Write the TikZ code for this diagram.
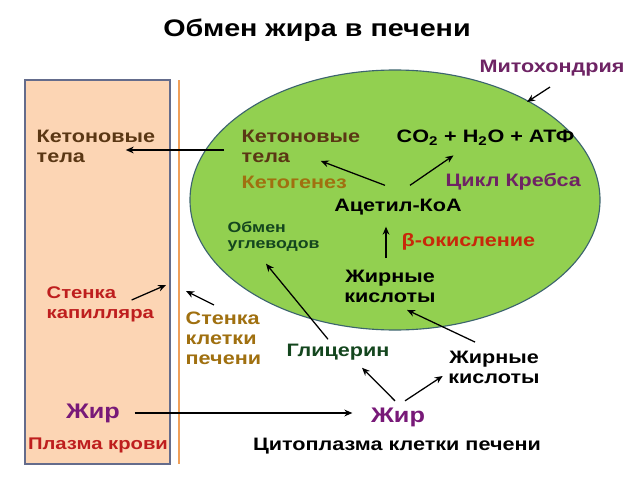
\documentclass[tikz,border=0pt]{standalone}
\usepackage{fontspec}
\setmainfont[FakeStretch=1.2]{Liberation Sans}
\usepackage{tikz}
\usetikzlibrary{arrows.meta,positioning}
\tikzset{>={Stealth[length=2mm,width=1.7mm]}}

\definecolor{plasmafill}{RGB}{252,213,180}
\definecolor{capborder}{RGB}{100,108,140}
\definecolor{wallorange}{RGB}{240,160,90}
\definecolor{mitofill}{RGB}{146,208,80}
\definecolor{mitoborder}{RGB}{60,100,110}
\definecolor{ketbrown}{RGB}{90,55,20}
\definecolor{ketgold}{RGB}{160,112,16}
\definecolor{krebspurple}{RGB}{110,35,100}
\definecolor{fatpurple}{RGB}{120,25,120}
\definecolor{betared}{RGB}{200,40,10}
\definecolor{wallred}{RGB}{190,30,30}
\definecolor{carbgreen}{RGB}{20,70,30}

\begin{document}
\begin{tikzpicture}[x=0.025cm,y=-0.025cm,
    font=\bfseries\fontsize{12.8}{14.2}\selectfont,
    lbl/.style={inner sep=1pt,align=left},
    big/.style={font=\bfseries\fontsize{15}{17}\selectfont},
    small/.style={font=\bfseries\fontsize{10.5}{11.5}\selectfont},
    redtxt/.style={text=wallred,font=\bfseries\fontsize{12}{14.2}\selectfont},
    arr/.style={->,line width=0.9pt}]
    \fill[white] (0,0) rectangle (640,480);
    \useasboundingbox (0,0) rectangle (640,480);

    % plasma and walls
    \draw[fill=plasmafill,draw=capborder,line width=1pt] (25,80) rectangle (170,464);
    \draw[wallorange,line width=2pt] (179,80) -- (179,464);
    \draw[fill=mitofill,draw=mitoborder,line width=0.8pt] (395,200) ellipse (205 and 130);

    \node[font=\bfseries\fontsize{17}{19}\selectfont] (title) at (317,30) {Обмен жира в печени};
    \node[text=krebspurple] (mito) at (552,68) {Митохондрия};

    \node[lbl,anchor=west,text=ketbrown] (ketblood) at (35,146) {Кетоновые\\тела};
    \node[lbl,anchor=west,text=ketbrown] (ketmito) at (240,146) {Кетоновые\\тела};
    \node[lbl,anchor=west,text=ketgold] (ketogen) at (240,182) {Кетогенез};
    \node[lbl,anchor=west] (prod) at (395,138) {CO\textsubscript{2} + H\textsubscript{2}O + АТФ};
    \node[lbl,anchor=west,text=krebspurple] (krebs) at (444,182) {Цикл Кребса};
    \node[lbl] (acoa) at (398,207) {Ацетил-КоА};
    \node[lbl,small,anchor=west,text=carbgreen] (carb) at (226,237) {Обмен\\углеводов};
    \node[lbl,anchor=west,text=betared] (beta) at (400,242) {β-окисление};
    \node[lbl,align=center] (fain) at (390,286) {Жирные\\кислоты};
    \node[lbl,text=carbgreen] (glyc) at (338,352) {Глицерин};
    \node[lbl,align=center] (faout) at (494,367) {Жирные\\кислоты};
    \node[lbl,big,text=fatpurple] (fatcell) at (398,417) {Жир};
    \node[lbl] (cyto) at (397,446) {Цитоплазма клетки печени};
    \node[lbl,big,text=fatpurple] (fatblood) at (93,413) {Жир};
    \node[lbl,redtxt] (plasma) at (98,445) {Плазма крови};
    \node[lbl,redtxt,anchor=west] (capwall) at (45,304) {Стенка\\капилляра};
    \node[lbl,anchor=west,text=ketgold] (cellwall) at (184,338) {Стенка\\клетки\\печени};

    \coordinate (capedge) at (166,285);
    \coordinate (walledge) at (186,291);
    \coordinate (mitoedge) at (527,102);

    \draw[arr] ([shift={(-16,4)}]ketmito.west) -- ([shift={(-31,4)}]ketblood.east);
    \draw[arr] ([shift={(-13,-12)}]acoa.north) -- ([shift={(-41,-3)}]ketmito.south east);
    \draw[arr] ([shift={(12,-12)}]acoa.north) -- ([shift={(-32,8)}]prod.south);
    \draw[arr] ([shift={(-4,-10)}]fain.north) -- ([shift={(-12,10)}]acoa.south);
    \draw[arr] ([shift={(-10,-3)}]glyc.north) -- ([shift={(40,10)}]carb.south west);
    \draw[arr] ([shift={(-19,-7)}]faout.north) -- ([shift={(17,6)}]fain.south);
    \draw[arr] ([shift={(-3,-5)}]fatcell.north) -- ([shift={(24,6)}]glyc.south);
    \draw[arr] ([shift={(7,-5)}]fatcell.north) -- ([shift={(-4,9)}]faout.west);
    \draw[arr] ([shift={(13,0)}]fatblood.east) -- ([shift={(-17,-4)}]fatcell.west);
    \draw[arr] ([shift={(-24,-4)}]capwall.east) -- (capedge);
    \draw[arr] ([shift={(30,-5)}]cellwall.north west) -- (walledge);
    \draw[arr] ([shift={(-2,6)}]mito.south) -- (mitoedge);
\end{tikzpicture}
\end{document}
